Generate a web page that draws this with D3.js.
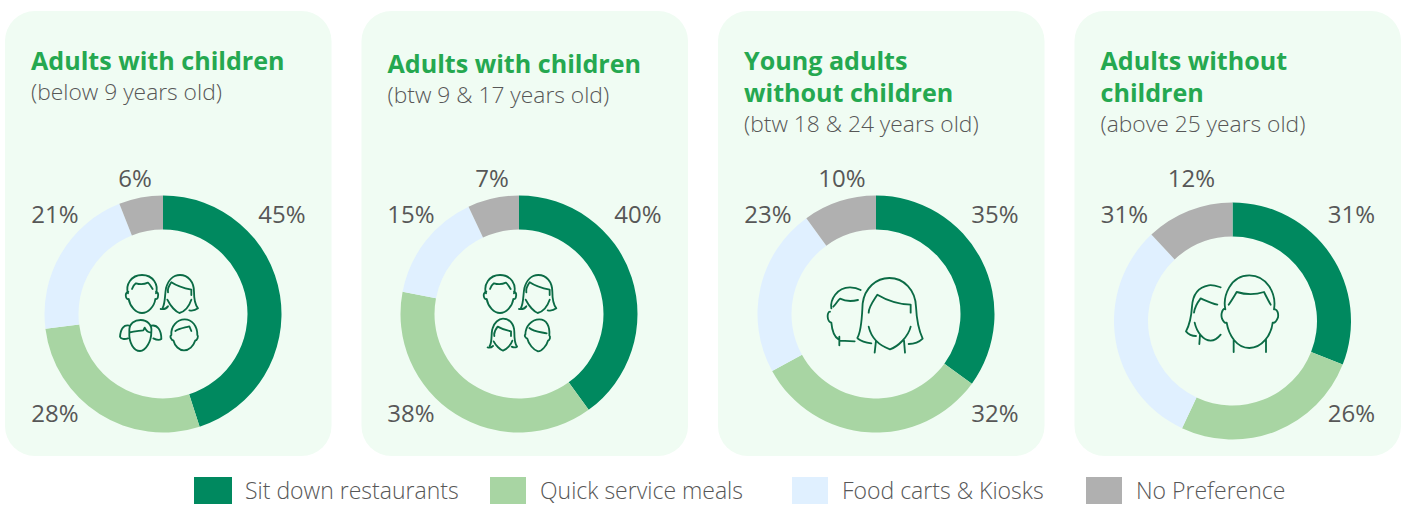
<!DOCTYPE html>
<html>
<head>
<meta charset="utf-8">
<script src="https://cdn.jsdelivr.net/npm/d3@7/dist/d3.min.js"></script>
<style>
html,body{margin:0;padding:0;background:#fff;}
svg{display:block;}
text{font-family:"Open Sans","Noto Sans",sans-serif;}
</style>
</head>
<body>
<svg id="chart" width="1402" height="505"></svg>
<script>
// Preferred dining format by life stage, share of respondents in percent.
const categories = ["Sit down restaurants", "Quick service meals", "Food carts & Kiosks", "No Preference"];
const youngChildrenValues = [45, 28, 21, 6];
const olderChildrenValues = [40, 38, 15, 7];
const youngAdultValues = [35, 32, 23, 10];
const olderAdultValues = [31, 26, 31, 12];
const colors = ["#00895f", "#a8d5a3", "#e0f0ff", "#b0b0b0"];

const panelTitles = [
  ["Adults with children"],
  ["Adults with children"],
  ["Young adults", "without children"],
  ["Adults without", "children"]
];
const panelSubtitles = ["(below 9 years old)", "(btw 9 & 17 years old)", "(btw 18 & 24 years old)", "(above 25 years old)"];
const panelValues = [youngChildrenValues, olderChildrenValues, youngAdultValues, olderAdultValues];

// Panel geometry
const panelX = [5, 361.5, 718, 1074.5];
const panelWidth = 326.5, panelTop = 11, panelHeight = 445;
const donutCx = [163, 519, 876, 1232.5];
const donutCy = [314, 314, 314, 321];
const titleY = [70, 73, 70, 70];
const outerR = 118.5, innerR = 84.5;
const rightX = 119, leftX = -108;
const topLabelX = [-28, -27, -34, -41];
const lowerLabelOnRight = [false, false, true, true];

// Line-art faces, drawn on a 3x grid and scaled down
const man = "M36 65C28 40 45 10 78 10C112 10 128 40 120 65M48 52C52 40 56 38 60 35C70 38 85 38 96 33C102 38 106 46 110 52M37 60C30 60 28 70 30 76C32 82 36 84 38 82C42 105 60 124 78 124C96 124 115 105 118 82C122 84 126 80 126 74C128 66 124 60 120 60";
const woman = "M146 108C154 95 152 70 156 50C162 25 178 10 198 10C222 10 240 30 240 60C240 85 244 100 252 110C244 116 234 118 226 116M140 112C150 114 156 112 162 104M162 62C160 52 165 42 172 32C190 44 210 50 232 54L232 70M160 84C170 104 186 120 196 124C210 120 224 108 232 84";
const girl = "M46 166C46 145 62 135 80 135C100 135 115 150 112 170C112 200 95 228 78 228C60 228 44 205 46 170ZM48 172C60 168 76 168 88 166L92 158C96 166 102 172 108 172M46 152C30 148 20 160 18 185C20 192 32 194 42 190M112 152C130 148 142 165 142 192C136 196 126 194 118 190";
const boy = "M172 182C170 155 190 135 212 135C234 135 250 155 250 182C254 186 250 198 244 198C238 215 225 228 210 228C196 228 182 215 178 198C172 198 166 186 172 182ZM184 170C196 162 214 160 226 156L232 170";
const girl2 = "M60 216C68 205 64 180 68 165C72 146 88 134 100 134C120 134 134 150 134 175C134 195 136 210 142 218C136 222 130 220 126 218M74 186C72 176 76 168 84 158C98 166 112 170 124 172L124 186M72 202C78 214 92 228 100 230C112 226 124 212 128 200M54 220C60 222 66 220 70 216";
const boy2 = "M166 180C166 155 185 134 208 134C230 134 240 155 238 182C242 186 240 196 234 198C230 212 216 230 204 230C190 226 176 208 172 192C166 190 162 182 166 180ZM178 160C192 172 212 172 230 176";
const youngMan = "M94 175C90 150 110 112 150 112C162 112 172 114 182 120M100 170C110 160 114 150 120 146C136 154 158 154 174 150M90 185C80 185 80 215 94 218C96 240 104 262 116 268M118 260L118 286M120 272L164 274";
const youngWoman = "M172 264C186 240 186 190 188 160C194 115 228 84 268 84C312 84 346 120 348 170C350 210 356 240 368 266C356 278 340 282 326 282M174 266C184 274 200 278 214 280M206 188C206 170 222 150 232 134C262 152 296 162 332 164L332 188M206 230C212 256 230 284 270 298C294 290 325 260 332 230M228 272L224 308M312 272L315 308";
const adultWoman = "M182 112C170 108 160 104 146 106C112 112 98 136 96 170C94 200 88 226 78 244C86 254 96 258 108 258M172 164C154 160 138 152 122 145C112 158 104 172 102 188M104 218C110 246 130 272 152 272C164 272 174 264 182 254M120 254L118 282";
const adultMan = "M196 178C188 140 210 76 268 76C320 76 350 130 342 178M206 164C216 150 224 136 230 126C256 134 288 134 312 126C318 138 324 150 332 164M194 176C186 178 182 194 186 206C190 216 196 220 200 218C206 255 230 294 268 294C306 294 334 255 338 218C344 220 350 212 354 202C356 190 352 180 346 178M221 268L221 306M318 268L318 306";

// Each panel's figures: outline plus its shift on the 3x grid
const panelIcons = [
  {dx: -73, dy: -64, parts: [[man, 78, 65], [woman, 72, 65], [girl, 72, 75], [boy, 72, 73]]},
  {dx: -74, dy: -64, parts: [[man, 87, 65], [woman, 82, 65], [girl2, 74, 72], [boy2, 75, 74]]},
  {dx: -76, dy: -64, parts: [[youngMan, 0, 0], [youngWoman, 0, 0]]},
  {dx: -72.5, dy: -71, parts: [[adultWoman, 0, 0], [adultMan, 0, 0]]}
];

const svg = d3.select("#chart");
const pie = d3.pie().sort(null).value(d => d);
const arc = d3.arc().innerRadius(innerR).outerRadius(outerR);
const percent = d => d + "%";
const textColor = "#575757";

panelValues.forEach((values, i) => {
  const g = svg.append("g");

  g.append("rect")
    .attr("x", panelX[i]).attr("y", panelTop)
    .attr("width", panelWidth).attr("height", panelHeight)
    .attr("rx", 30).attr("ry", 30)
    .attr("fill", "#f0fcf3");

  // Heading and age range
  const tx = panelX[i] + 26;
  panelTitles[i].forEach((line, k) => {
    g.append("text")
      .attr("x", tx).attr("y", titleY[i] + k * 32)
      .attr("font-size", 25.1).attr("font-weight", 700)
      .attr("fill", "#25a850").text(line);
  });
  g.append("text")
    .attr("x", tx).attr("y", titleY[i] + (panelTitles[i].length - 1) * 32 + 29.5)
    .attr("font-size", 22.8).attr("font-weight", 300)
    .attr("fill", textColor).text(panelSubtitles[i]);

  // Donut, clockwise from twelve o'clock
  const donut = g.append("g")
    .attr("transform", `translate(${donutCx[i]},${donutCy[i]})`);
  donut.selectAll("path")
    .data(pie(values))
    .join("path")
    .attr("d", arc)
    .attr("fill", (d, k) => colors[k]);

  // Figures in the hole
  const icon = g.append("g")
    .attr("transform", `translate(${donutCx[i] + panelIcons[i].dx},${donutCy[i] + panelIcons[i].dy}) scale(${1 / 3})`)
    .attr("fill", "none")
    .attr("stroke", "#0b6b45")
    .attr("stroke-width", 5.5)
    .attr("stroke-linecap", "round")
    .attr("stroke-linejoin", "round");
  icon.selectAll("path")
    .data(panelIcons[i].parts)
    .join("path")
    .attr("transform", d => `translate(${d[1]},${d[2]})`)
    .attr("d", d => d[0]);

  // Value labels at the corners of each ring
  const labelPos = [
    [donutCx[i] + rightX, 223],
    [donutCx[i] + (lowerLabelOnRight[i] ? rightX : leftX), 422],
    [donutCx[i] + leftX, 223],
    [donutCx[i] + topLabelX[i], 187]
  ];
  values.forEach((v, k) => {
    g.append("text")
      .attr("x", labelPos[k][0]).attr("y", labelPos[k][1])
      .attr("text-anchor", "middle")
      .attr("font-size", 24).attr("font-weight", 400)
      .attr("fill", textColor).text(percent(v));
  });
});

// Legend
const legendSwatchX = [194, 490, 792, 1086];
const legend = svg.append("g");
categories.forEach((name, i) => {
  legend.append("rect")
    .attr("x", legendSwatchX[i]).attr("y", 477)
    .attr("width", i === 0 ? 38 : 36).attr("height", 27)
    .attr("fill", colors[i]);
  legend.append("text")
    .attr("x", legendSwatchX[i] + (i === 0 ? 51 : 50)).attr("y", 499)
    .attr("font-size", 23).attr("font-weight", 300)
    .attr("fill", textColor).text(name);
});
</script>
</body>
</html>
